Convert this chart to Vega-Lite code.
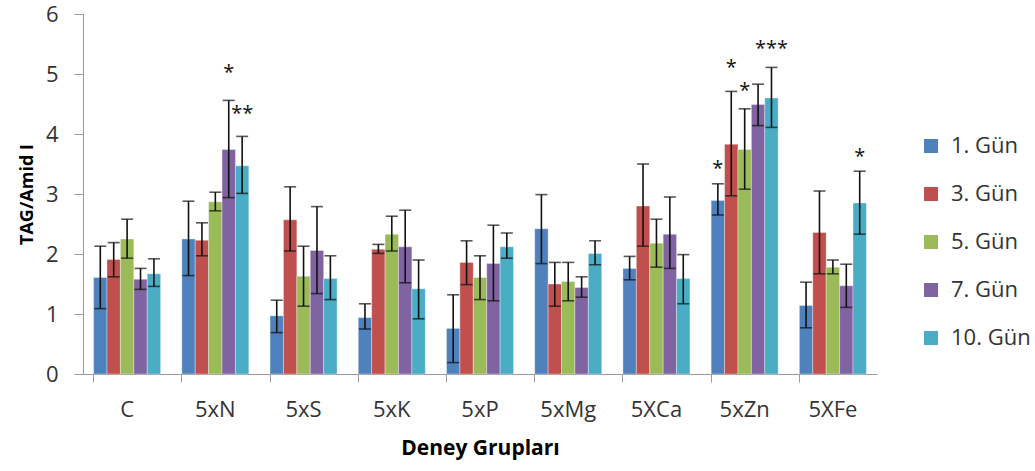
{
  "$schema": "https://vega.github.io/schema/vega-lite/v6.json",
  "width": 794,
  "height": 360,
  "autosize": "none",
  "padding": {"left": 83, "top": 14, "right": 158, "bottom": 97},
  "background": "white",
  "config": {
    "font": "Open Sans",
    "view": {"stroke": null},
    "axis": {"grid": false, "domainColor": "#999999", "tickColor": "#999999", "labelColor": "#333333", "titleColor": "#000000", "labelFont": "Open Sans", "titleFont": "Open Sans"}
  },
  "datasets": {
    "bars": [
      {"group": "C", "day": "1. Gün", "value": 1.61, "lo": 1.09, "hi": 2.13},
      {"group": "C", "day": "3. Gün", "value": 1.91, "lo": 1.62, "hi": 2.19},
      {"group": "C", "day": "5. Gün", "value": 2.25, "lo": 1.93, "hi": 2.58},
      {"group": "C", "day": "7. Gün", "value": 1.58, "lo": 1.41, "hi": 1.76},
      {"group": "C", "day": "10. Gün", "value": 1.67, "lo": 1.46, "hi": 1.92},
      {"group": "5xN", "day": "1. Gün", "value": 2.25, "lo": 1.64, "hi": 2.88},
      {"group": "5xN", "day": "3. Gün", "value": 2.23, "lo": 1.97, "hi": 2.52},
      {"group": "5xN", "day": "5. Gün", "value": 2.87, "lo": 2.72, "hi": 3.03},
      {"group": "5xN", "day": "7. Gün", "value": 3.74, "lo": 2.94, "hi": 4.56},
      {"group": "5xN", "day": "10. Gün", "value": 3.47, "lo": 3.01, "hi": 3.96},
      {"group": "5xS", "day": "1. Gün", "value": 0.97, "lo": 0.69, "hi": 1.23},
      {"group": "5xS", "day": "3. Gün", "value": 2.57, "lo": 2.05, "hi": 3.12},
      {"group": "5xS", "day": "5. Gün", "value": 1.63, "lo": 1.13, "hi": 2.13},
      {"group": "5xS", "day": "7. Gün", "value": 2.06, "lo": 1.34, "hi": 2.79},
      {"group": "5xS", "day": "10. Gün", "value": 1.59, "lo": 1.24, "hi": 1.97},
      {"group": "5xK", "day": "1. Gün", "value": 0.94, "lo": 0.75, "hi": 1.17},
      {"group": "5xK", "day": "3. Gün", "value": 2.08, "lo": 2.01, "hi": 2.16},
      {"group": "5xK", "day": "5. Gün", "value": 2.33, "lo": 2.05, "hi": 2.63},
      {"group": "5xK", "day": "7. Gün", "value": 2.12, "lo": 1.52, "hi": 2.73},
      {"group": "5xK", "day": "10. Gün", "value": 1.42, "lo": 0.92, "hi": 1.90},
      {"group": "5xP", "day": "1. Gün", "value": 0.76, "lo": 0.19, "hi": 1.32},
      {"group": "5xP", "day": "3. Gün", "value": 1.86, "lo": 1.49, "hi": 2.22},
      {"group": "5xP", "day": "5. Gün", "value": 1.61, "lo": 1.24, "hi": 1.97},
      {"group": "5xP", "day": "7. Gün", "value": 1.84, "lo": 1.22, "hi": 2.48},
      {"group": "5xP", "day": "10. Gün", "value": 2.12, "lo": 1.93, "hi": 2.35},
      {"group": "5xMg", "day": "1. Gün", "value": 2.42, "lo": 1.84, "hi": 2.99},
      {"group": "5xMg", "day": "3. Gün", "value": 1.50, "lo": 1.13, "hi": 1.86},
      {"group": "5xMg", "day": "5. Gün", "value": 1.54, "lo": 1.22, "hi": 1.86},
      {"group": "5xMg", "day": "7. Gün", "value": 1.44, "lo": 1.28, "hi": 1.62},
      {"group": "5xMg", "day": "10. Gün", "value": 2.01, "lo": 1.82, "hi": 2.22},
      {"group": "5XCa", "day": "1. Gün", "value": 1.76, "lo": 1.57, "hi": 1.96},
      {"group": "5XCa", "day": "3. Gün", "value": 2.80, "lo": 2.13, "hi": 3.50},
      {"group": "5XCa", "day": "5. Gün", "value": 2.18, "lo": 1.78, "hi": 2.58},
      {"group": "5XCa", "day": "7. Gün", "value": 2.33, "lo": 1.76, "hi": 2.95},
      {"group": "5XCa", "day": "10. Gün", "value": 1.59, "lo": 1.17, "hi": 1.99},
      {"group": "5xZn", "day": "1. Gün", "value": 2.89, "lo": 2.65, "hi": 3.17},
      {"group": "5xZn", "day": "3. Gün", "value": 3.83, "lo": 2.97, "hi": 4.71},
      {"group": "5xZn", "day": "5. Gün", "value": 3.74, "lo": 3.08, "hi": 4.42},
      {"group": "5xZn", "day": "7. Gün", "value": 4.49, "lo": 4.14, "hi": 4.83},
      {"group": "5xZn", "day": "10. Gün", "value": 4.60, "lo": 4.11, "hi": 5.11},
      {"group": "5XFe", "day": "1. Gün", "value": 1.14, "lo": 0.77, "hi": 1.53},
      {"group": "5XFe", "day": "3. Gün", "value": 2.36, "lo": 1.67, "hi": 3.05},
      {"group": "5XFe", "day": "5. Gün", "value": 1.78, "lo": 1.67, "hi": 1.90},
      {"group": "5XFe", "day": "7. Gün", "value": 1.47, "lo": 1.11, "hi": 1.83},
      {"group": "5XFe", "day": "10. Gün", "value": 2.85, "lo": 2.33, "hi": 3.38}
    ],
    "stars": [
      {"group": "5xN", "day": "7. Gün", "label": "*", "y": 5.12},
      {"group": "5xN", "day": "10. Gün", "label": "**", "y": 4.43},
      {"group": "5xZn", "day": "1. Gün", "label": "*", "y": 3.52},
      {"group": "5xZn", "day": "3. Gün", "label": "*", "y": 5.2},
      {"group": "5xZn", "day": "5. Gün", "label": "*", "y": 4.81},
      {"group": "5xZn", "day": "10. Gün", "label": "***", "y": 5.52},
      {"group": "5XFe", "day": "10. Gün", "label": "*", "y": 3.72}
    ]
  },
  "encoding": {
    "x": {
      "field": "group", "type": "nominal",
      "sort": ["C", "5xN", "5xS", "5xK", "5xP", "5xMg", "5XCa", "5xZn", "5XFe"],
      "scale": {"paddingInner": 0.24, "paddingOuter": 0.12},
      "axis": {"title": "Deney Grupları", "labelAngle": 0, "bandPosition": 0, "tickSize": 8, "labelPadding": 17, "labelFontSize": 22, "titleFontSize": 21, "titleFontWeight": "bold", "titlePadding": 17, "domainColor": "#999999"}
    },
    "xOffset": {
      "field": "day", "type": "nominal",
      "sort": ["1. Gün", "3. Gün", "5. Gün", "7. Gün", "10. Gün"],
      "scale": {"paddingInner": 0, "paddingOuter": 0}
    }
  },
  "layer": [
    {
      "data": {"name": "bars"},
      "mark": {"type": "bar", "stroke": "white", "strokeOpacity": 0.35, "strokeWidth": 1},
      "encoding": {
        "y": {
          "field": "value", "type": "quantitative",
          "scale": {"domain": [0, 6], "nice": false},
          "axis": {"title": "TAG/Amid I", "values": [0, 1, 2, 3, 4, 5, 6], "format": "d", "tickSize": 9, "labelPadding": 16, "labelFontSize": 22, "titleFontSize": 18, "titleFontWeight": "bold", "titlePadding": 9}
        },
        "color": {
          "field": "day", "type": "nominal",
          "sort": ["1. Gün", "3. Gün", "5. Gün", "7. Gün", "10. Gün"],
          "scale": {"domain": ["1. Gün", "3. Gün", "5. Gün", "7. Gün", "10. Gün"], "range": ["#4F81BD", "#C0504D", "#9BBB59", "#8064A2", "#4BACC6"]},
          "legend": {"title": null, "orient": "none", "legendX": 837, "legendY": 121, "padding": 0, "symbolType": "square", "symbolSize": 196, "symbolStrokeWidth": 0, "symbolOpacity": 1, "labelFontSize": 22, "labelColor": "#333333", "labelFont": "Open Sans", "labelOffset": 9, "rowPadding": 26, "labelLimit": 200}
        }
      }
    },
    {
      "data": {"name": "bars"},
      "mark": {"type": "rule", "color": "#111111", "strokeWidth": 1.6},
      "encoding": {
        "y": {"field": "lo", "type": "quantitative"},
        "y2": {"field": "hi"}
      }
    },
    {
      "data": {"name": "bars"},
      "mark": {"type": "tick", "color": "#111111", "thickness": 1.6, "size": 12},
      "encoding": {"y": {"field": "hi", "type": "quantitative"}}
    },
    {
      "data": {"name": "bars"},
      "mark": {"type": "tick", "color": "#111111", "thickness": 1.6, "size": 12},
      "encoding": {"y": {"field": "lo", "type": "quantitative"}}
    },
    {
      "data": {"name": "stars"},
      "mark": {"type": "text", "fontSize": 20, "font": "Open Sans", "color": "#111111", "baseline": "alphabetic", "dy": 12},
      "encoding": {
        "y": {"field": "y", "type": "quantitative"},
        "text": {"field": "label"}
      }
    }
  ]
}
